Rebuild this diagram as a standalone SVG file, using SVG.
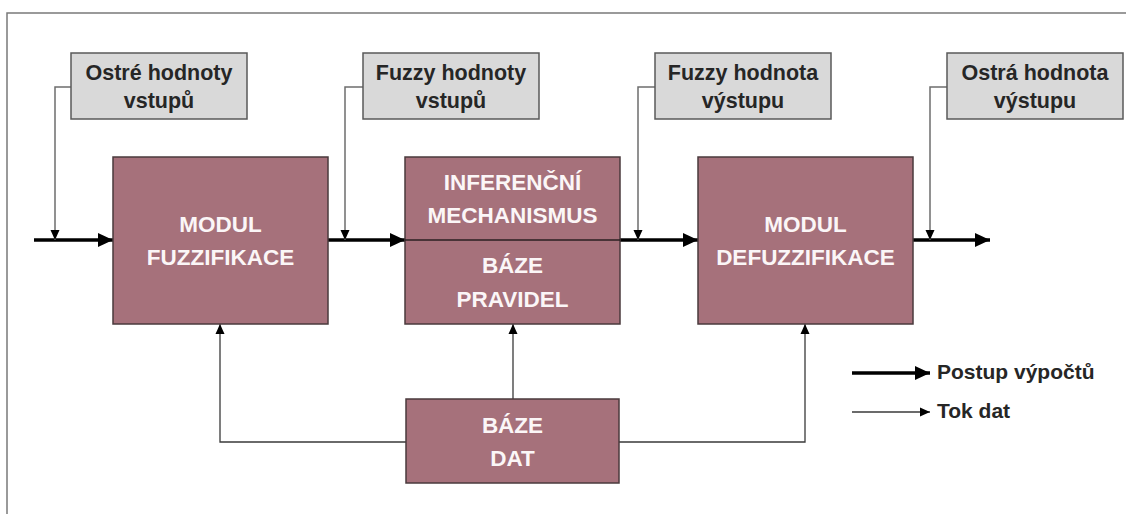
<svg xmlns="http://www.w3.org/2000/svg" width="1126" height="514" viewBox="0 0 1126 514">
<style>
.gbox{fill:#d9d9d9;stroke:#595959;stroke-width:1.5}
.mbox{fill:#a6717b;stroke:#4a3a3d;stroke-width:1.5}
.gt{font-family:"Liberation Sans",Arial,sans-serif;font-weight:bold;font-size:21.5px;fill:#262626;text-anchor:middle}
.mt{font-family:"Liberation Sans",Arial,sans-serif;font-weight:bold;font-size:22.5px;fill:#fbf6f7;text-anchor:middle}
.lt{font-family:"Liberation Sans",Arial,sans-serif;font-weight:bold;font-size:21px;fill:#262626}
.thick{stroke:#000;stroke-width:3.5;fill:none;marker-end:url(#big)}
.feed{stroke:#6e6e6e;stroke-width:1.5;fill:none;marker-end:url(#small)}
.data{stroke:#3a3a3a;stroke-width:1.3;fill:none;marker-end:url(#small)}
</style>
<defs>
<marker id="big" markerUnits="userSpaceOnUse" markerWidth="16" markerHeight="16" refX="15" refY="8" orient="auto">
<path d="M0,1 L15,8 L0,15 Z" fill="#000"/>
</marker>
<marker id="small" markerUnits="userSpaceOnUse" markerWidth="12" markerHeight="12" refX="10" refY="5" orient="auto">
<path d="M0,0.5 L10,5 L0,9.5 Z" fill="#000"/>
</marker>
</defs>
<rect x="0" y="0" width="1126" height="514" fill="#fff"/>
<path d="M7,514 V13 H1126" stroke="#7a7a7a" stroke-width="1.5" fill="none"/>

<g id="connectors">
<path class="thick" d="M34,240 H113"/>
<path class="thick" d="M328,240 H405"/>
<path d="M405,240 H620" stroke="#2a1f21" stroke-width="1.3"/>
<path class="thick" d="M620,240 H698"/>
<path class="thick" d="M913,240 H990"/>
<path class="feed" d="M71,87 H55 V240"/>
<path class="feed" d="M363,87 H345 V240"/>
<path class="feed" d="M655,87 H638 V240"/>
<path class="feed" d="M947,87 H930 V240"/>
<path class="data" d="M406,442 H220 V324"/>
<path class="data" d="M513,399 V324"/>
<path class="data" d="M619,442 H805 V324"/>
</g>

<g id="ostre-hodnoty-vstupu">
<rect class="gbox" x="71" y="53" width="176" height="66"/>
<text class="gt" x="159" y="80">Ostré hodnoty</text>
<text class="gt" x="159" y="108">vstupů</text>
</g>
<g id="fuzzy-hodnoty-vstupu">
<rect class="gbox" x="363" y="53" width="176" height="66"/>
<text class="gt" x="451" y="80">Fuzzy hodnoty</text>
<text class="gt" x="451" y="108">vstupů</text>
</g>
<g id="fuzzy-hodnota-vystupu">
<rect class="gbox" x="655" y="53" width="176" height="66"/>
<text class="gt" x="743" y="80">Fuzzy hodnota</text>
<text class="gt" x="743" y="108">výstupu</text>
</g>
<g id="ostra-hodnota-vystupu">
<rect class="gbox" x="947" y="53" width="176" height="66"/>
<text class="gt" x="1035" y="80">Ostrá hodnota</text>
<text class="gt" x="1035" y="108">výstupu</text>
</g>

<g id="modul-fuzzifikace">
<rect class="mbox" x="113" y="157" width="215" height="167"/>
<text class="mt" x="220.5" y="232">MODUL</text>
<text class="mt" x="220.5" y="265">FUZZIFIKACE</text>
</g>
<g id="inferencni-mechanismus">
<rect class="mbox" x="405" y="157" width="215" height="167"/>
<line x1="405" y1="240" x2="620" y2="240" stroke="#2a1f21" stroke-width="1.3"/>
<text class="mt" x="512.5" y="190">INFERENČNÍ</text>
<text class="mt" x="512.5" y="223">MECHANISMUS</text>
<text class="mt" x="512.5" y="273">BÁZE</text>
<text class="mt" x="512.5" y="307">PRAVIDEL</text>
</g>
<g id="modul-defuzzifikace">
<rect class="mbox" x="698" y="157" width="215" height="167"/>
<text class="mt" x="805.5" y="232">MODUL</text>
<text class="mt" x="805.5" y="265">DEFUZZIFIKACE</text>
</g>
<g id="baze-dat">
<rect class="mbox" x="406" y="399" width="213" height="84"/>
<text class="mt" x="512.5" y="433">BÁZE</text>
<text class="mt" x="512.5" y="466">DAT</text>
</g>

<g id="legend">
<path class="thick" d="M852,373 H930"/>
<text class="lt" x="937" y="379">Postup výpočtů</text>
<path class="data" d="M852,412 H930"/>
<text class="lt" x="937" y="418">Tok dat</text>
</g>
</svg>
